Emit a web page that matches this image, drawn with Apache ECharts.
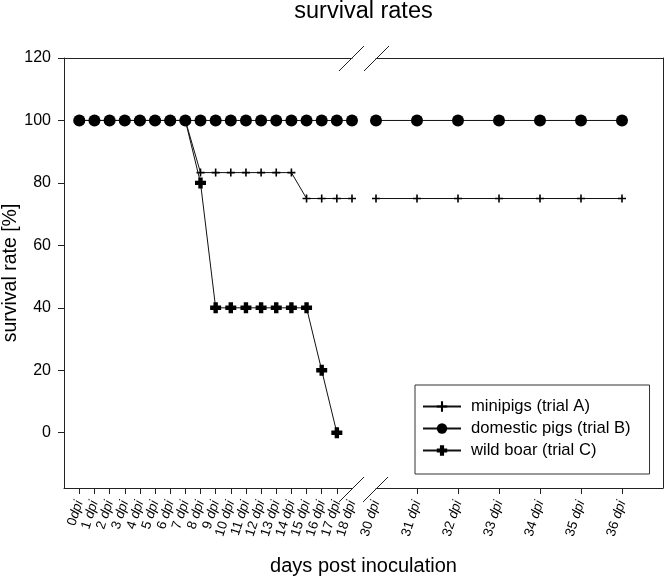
<!DOCTYPE html>
<html>
<head>
<meta charset="utf-8">
<script src="https://cdn.jsdelivr.net/npm/echarts@6/dist/echarts.min.js"></script>
<style>
html,body{margin:0;padding:0;background:#fff;}
#chart{width:666px;height:579px;}
</style>
</head>
<body>
<div id="chart"></div>
<script>
// ---- data ----
const leftDays = [0,1,2,3,4,5,6,7,8,9,10,11,12,13,14,15,16,17,18];
const leftTickLabels = ['0dpi','1 dpi','2 dpi','3 dpi','4 dpi','5 dpi','6 dpi','7 dpi','8 dpi','9 dpi','10 dpi','11 dpi','12 dpi','13 dpi','14 dpi','15 dpi','16 dpi','17 dpi','18 dpi'];
const leftTickDays = [0,1,2,3,4,5,6,7,8,9,10,11,12,13,14,15,16,17];
const rightDays = [30,31,32,33,34,35,36];
const rightTickLabels = ['30 dpi','31 dpi','32 dpi','33 dpi','34 dpi','35 dpi','36 dpi'];
const rightTickDays = [31,32,33,34,35,36];
const yTicks = [0,20,40,60,80,100,120];

const minipigsLeft  = [100,100,100,100,100,100,100,100,83.3,83.3,83.3,83.3,83.3,83.3,83.3,75,75,75,75];
const minipigsRight = [75,75,75,75,75,75,75];
const domesticLeft  = [100,100,100,100,100,100,100,100,100,100,100,100,100,100,100,100,100,100,100];
const domesticRight = [100,100,100,100,100,100,100];
const wildBoarLeft  = [100,100,100,100,100,100,100,100,80,40,40,40,40,40,40,40,20,0];
const wildBoarDays  = [0,1,2,3,4,5,6,7,8,9,10,11,12,13,14,15,16,17];

const names = ['minipigs (trial A)','domestic pigs (trial B)','wild boar (trial C)'];

// ---- styling ----
const FONT = '"Liberation Sans", Arial, sans-serif';
const AX = '#222';
const PLUS_THIN = 'path://M3.2,0 H4.8 V3.2 H8 V4.8 H4.8 V8 H3.2 V4.8 H0 V3.2 H3.2 Z';
const PLUS_BOLD = 'path://M3,0 H7 V3 H10 V7 H7 V10 H3 V7 H0 V3 H3 Z';

function pairs(xs, ys){ return ys.map((v,i)=>[xs[i], v]); }
function richLabel(days, labels){
  return function(v){
    const idx = days.indexOf(Math.round(v));
    if (idx < 0) return '';
    const s = labels[idx];
    const pre = s.replace('dpi','');
    return '{n|' + pre + '}{i|dpi}';
  };
}
const labelRich = {
  n:{fontFamily:FONT,fontSize:13.5,color:'#000'},
  i:{fontFamily:FONT,fontSize:13.5,color:'#000',fontStyle:'italic'}
};

const xMinL = -1.01, xMaxL = 18, xMinR = 30, xMaxR = 37;
const yMin = -17.7, yMax = 120;

function bottomX(grid, min, max, tickDays, days, labels){
  return {
    type:'value', gridIndex:grid, position:'bottom', min:min, max:max,
    axisLine:{show:true,onZero:false,lineStyle:{color:AX,width:1}},
    axisTick:{show:true,inside:false,length:6,customValues:tickDays,lineStyle:{color:AX,width:1}},
    axisLabel:{show:true,customValues:days,rotate:72,margin:13,hideOverlap:false,
      formatter:richLabel(days,labels),rich:labelRich,fontFamily:FONT,fontSize:13.5,color:'#000'},
    splitLine:{show:false}
  };
}
function topX(grid, min, max){
  return {
    type:'value', gridIndex:grid, position:'top', min:min, max:max,
    axisLine:{show:true,onZero:false,lineStyle:{color:AX,width:1}},
    axisTick:{show:false}, axisLabel:{show:false}, splitLine:{show:false}
  };
}

function lineSeries(name, xi, data, symbol, size, z){
  return {
    type:'line', name:name, xAxisIndex:xi, yAxisIndex:xi, data:data,
    symbol:symbol, symbolSize:size, showAllSymbol:true, clip:false, z:z,
    lineStyle:{color:'#111',width:1}, itemStyle:{color:'#000',borderWidth:0},
    emphasis:{disabled:true}, animation:false
  };
}

const chart = echarts.init(document.getElementById('chart'), null, {renderer:'canvas'});
const option = {
  animation:false,
  backgroundColor:'#fff',
  grid:[
    {left:64, top:58, width:288, height:430, outerBoundsMode:'none', containLabel:false},
    {left:376, top:58, width:287, height:430, outerBoundsMode:'none', containLabel:false}
  ],
  xAxis:[
    bottomX(0, xMinL, xMaxL, leftTickDays, leftDays, leftTickLabels),
    bottomX(1, xMinR, xMaxR, rightTickDays, rightDays, rightTickLabels),
    topX(0, xMinL, xMaxL),
    topX(1, xMinR, xMaxR)
  ],
  yAxis:[
    {type:'value', gridIndex:0, position:'left', min:yMin, max:yMax,
     axisLine:{show:true,onZero:false,lineStyle:{color:AX,width:1}},
     axisTick:{show:true,inside:false,length:6,customValues:yTicks,lineStyle:{color:AX,width:1}},
     axisLabel:{show:true,customValues:yTicks,margin:13,fontFamily:FONT,fontSize:16,color:'#000'},
     splitLine:{show:false},
     name:'survival rate [%]', nameLocation:'middle', nameGap:37,
     nameTextStyle:{fontFamily:FONT,fontSize:19.5,color:'#000'}},
    {type:'value', gridIndex:1, position:'right', min:yMin, max:yMax,
     axisLine:{show:true,onZero:false,lineStyle:{color:AX,width:1}},
     axisTick:{show:false}, axisLabel:{show:false}, splitLine:{show:false}}
  ],
  legend:{
    data:names, orient:'vertical', left:415, top:385,
    padding:[13,19,15,7], itemGap:5, itemWidth:38, itemHeight:13,
    borderColor:'#333', borderWidth:1, backgroundColor:'#fff',
    textStyle:{fontFamily:FONT,fontSize:16.6,color:'#000',lineHeight:16,padding:[0,0,0,5]},
    selectedMode:false
  },
  series:[
    lineSeries(names[0], 0, pairs(leftDays, minipigsLeft), PLUS_THIN, 8, 3),
    lineSeries(names[0], 1, pairs(rightDays, minipigsRight), PLUS_THIN, 8, 3),
    lineSeries(names[2], 0, pairs(wildBoarDays, wildBoarLeft), PLUS_BOLD, 11, 4),
    lineSeries(names[1], 0, pairs(leftDays, domesticLeft), 'circle', 12, 5),
    lineSeries(names[1], 1, pairs(rightDays, domesticRight), 'circle', 12, 5)
  ]
};
chart.setOption(option);

// axis-break marks and titles, positioned from the axes
const xBreakL = chart.convertToPixel({xAxisIndex:0}, xMaxL);
const xBreakR = chart.convertToPixel({xAxisIndex:1}, xMinR);
const yTop = chart.convertToPixel({yAxisIndex:0}, yMax);
const yBot = chart.convertToPixel({yAxisIndex:0}, yMin);
const xCenter = (chart.convertToPixel({xAxisIndex:0}, xMinL) + chart.convertToPixel({xAxisIndex:1}, xMaxR)) / 2;
const h = 12.5;
function slash(cx, cy){
  return {type:'line', shape:{x1:cx-h, y1:cy+h, x2:cx+h, y2:cy-h}, style:{stroke:AX, lineWidth:1}, z:10};
}
chart.setOption({
  graphic:[
    slash(xBreakL-0.5, yTop+0.5), slash(xBreakR+0.5, yTop+0.5),
    slash(xBreakL-0.5, yBot+1.5), slash(xBreakR-0.5, yBot+1.5),
    {type:'text', x:xCenter, y:12, style:{text:'survival rates', font:'23.5px ' + FONT, fill:'#000', align:'center', verticalAlign:'middle'}},
    {type:'text', x:xCenter, y:566, style:{text:'days post inoculation', font:'20px ' + FONT, fill:'#000', align:'center', verticalAlign:'middle'}}
  ]
});
</script>
</body>
</html>
